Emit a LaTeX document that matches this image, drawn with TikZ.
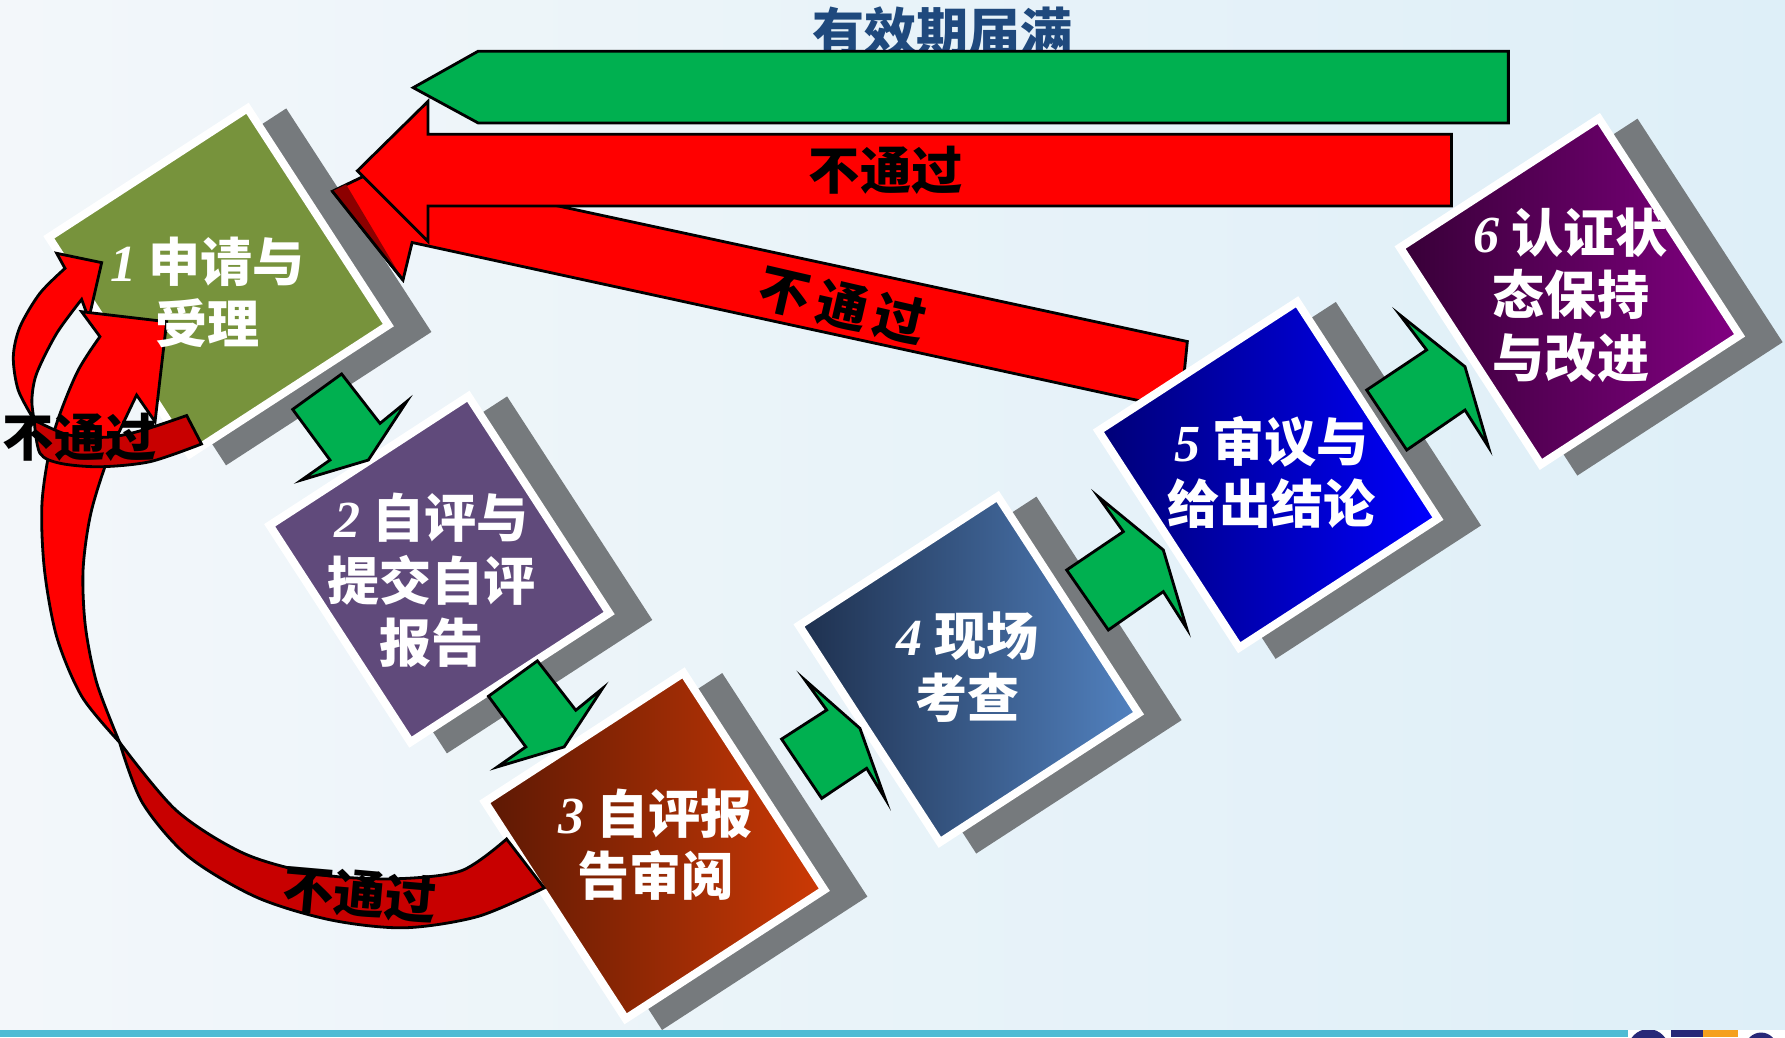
\documentclass[tikz,border=0pt]{standalone}
\usepackage{fontspec}
\newfontfamily\cjk{Noto Sans CJK SC}
\newfontfamily\numfont{Liberation Serif}
\usetikzlibrary{positioning}

\definecolor{bgleft}{RGB}{243,247,250}
\definecolor{bgmid}{RGB}{208,233,246}
\definecolor{bgright}{RGB}{222,239,248}
\definecolor{stripe}{RGB}{78,188,212}
\definecolor{logoblue}{RGB}{40,40,120}
\definecolor{logoorange}{RGB}{245,160,30}
\definecolor{shadowgray}{RGB}{118,122,125}
\definecolor{agreen}{RGB}{0,176,80}
\definecolor{ared}{RGB}{255,0,0}
\definecolor{adarkred}{RGB}{200,0,0}
\definecolor{asliver}{RGB}{140,0,0}
\definecolor{titleblue}{RGB}{31,73,125}
\definecolor{olive}{RGB}{119,147,60}
\definecolor{grape}{RGB}{96,74,123}
\definecolor{rustdark}{RGB}{92,24,4}
\definecolor{rustlight}{RGB}{205,58,5}
\definecolor{steeldark}{RGB}{30,48,78}
\definecolor{steellight}{RGB}{82,130,192}
\definecolor{navydark}{RGB}{0,0,118}
\definecolor{navylight}{RGB}{0,0,255}
\definecolor{plumdark}{RGB}{55,0,55}
\definecolor{plumlight}{RGB}{130,0,130}

\begin{document}
\begin{tikzpicture}[x=0.01cm,y=-0.01cm]
\tikzstyle{every node}=[inner sep=0pt]
\tikzstyle{stepshadow}=[fill=shadowgray, rotate=33, minimum width=2.15cm, minimum height=2.34cm]
\tikzstyle{stepbox}=[draw=white, line width=2pt, rotate=33, minimum width=2.08cm, minimum height=2.27cm]
\tikzstyle{steptext}=[text=white, align=center, font=\cjk\bfseries\fontsize{13}{15.6}\selectfont]
\tikzstyle{blockarrow}=[draw=black, line width=0.7pt, line join=miter]
\tikzstyle{failtext}=[text=black, font=\cjk\bfseries\fontsize{12.8}{15}\selectfont]

% background and bottom strip
\useasboundingbox (0,0) rectangle (1568,911);
\shade[left color=bgleft, middle color=bgmid, right color=bgright] (0,0) rectangle (1568,905);
\fill[stripe] (0,905) rectangle (1430,911);
\begin{scope}
\clip (1430,905) rectangle (1568,911);
\fill[white] (1430,905) rectangle (1568,911);
\fill[logoblue] (1448,922) circle (18);
\fill[logoblue] (1468,905) rectangle (1496,911);
\fill[logoorange] (1496,905) rectangle (1527,911);
\fill[logoblue] (1547,921) circle (14);
\end{scope}

\node[font=\cjk\bfseries\fontsize{13}{15}\selectfont, text=titleblue] (title) at (828,28) {有效期届满};

% steps 1-4
\node[stepshadow] (h1) at (225,252) {};
\node[stepbox, fill=olive] (s1) at (192,247) {};
\node[stepshadow] (h2) at (419,505) {};
\node[stepbox, fill=grape] (s2) at (386,500) {};
\node[stepshadow] (h3) at (608,748) {};
\node[stepbox, left color=rustdark, right color=rustlight] (s3) at (575,743) {};
\node[stepshadow] (h4) at (884,593) {};
\node[stepbox, left color=steeldark, right color=steellight] (s4) at (851,588) {};

% back arrows on top
\draw[blockarrow, fill=ared] (292,168) -- (340,145) -- (370,155) -- (1043,300) -- (1040,330)
  -- (1010,354) -- (362,213) -- (354,246) -- cycle;
\fill[asliver] (292,168) -- (304,162) -- (354,246) -- cycle;
\draw[blockarrow] (292,168) -- (354,246);
\draw[blockarrow, fill=ared] (1275,118) -- (376,118) -- (376,89) -- (314,150) -- (376,212)
  -- (376,181) -- (1275,181) -- cycle;
\draw[blockarrow, fill=agreen] (1325,45) -- (420,45) -- (363,77) -- (420,108) -- (1325,108) -- cycle;

% steps 5-6
\node[stepshadow] (h5) at (1147,422) {};
\node[stepbox, left color=navydark, right color=navylight] (s5) at (1114,417) {};
\node[stepshadow] (h6) at (1412,261) {};
\node[stepbox, left color=plumdark, right color=plumlight] (s6) at (1379,256) {};

% forward arrows
\draw[blockarrow, fill=agreen] (257.1,359.6) -- (300.1,328.5) -- (333.8,371.9) -- (357.2,352.8)
  -- (323.6,404.1) -- (265,421.6) -- (289.9,404.1) -- cycle;
\draw[blockarrow, fill=agreen] (429.1,611.6) -- (472.1,580.5) -- (505.8,623.9) -- (529.2,604.8)
  -- (495.6,656.1) -- (437,673.6) -- (461.9,656.1) -- cycle;
\draw[blockarrow, fill=agreen] (686.6,649.2) -- (726.2,623.7) -- (707.1,597.3) -- (755.4,639.8)
  -- (777.4,701.3) -- (761.3,674.9) -- (721.8,701.3) -- cycle;
\draw[blockarrow, fill=agreen] (937,500.7) -- (986.8,467) -- (964.8,436.3) -- (1021.9,483.1)
  -- (1042.4,551.9) -- (1021.9,519.7) -- (973.6,553.4) -- cycle;
\draw[blockarrow, fill=agreen] (1200.5,342.6) -- (1253.2,307.4) -- (1229.8,276.7) -- (1286.9,322.1)
  -- (1307.4,392.4) -- (1286.9,360.2) -- (1235.7,395.3) -- cycle;

% curved loops back to step 1
\draw[blockarrow, fill=ared] (49.8,222.5) -- (89.3,230.7) -- (78,280) -- (71.7,263)
  -- plot[smooth] coordinates {(71.7,263) (49.8,292.8) (32.2,328) (28,351) (30,369)}
  -- plot[smooth] coordinates {(30,369) (16,342.6) (11.7,313.3) (17.6,287) (35,257.7) (57.1,235.7)}
  -- cycle;
\draw[blockarrow, fill=ared] (71.7,273.8) -- (146.4,282.6) -- (136.2,370.4) -- (120,347)
  -- plot[smooth] coordinates {(120,347) (96.6,398) (80,450) (73,500) (75,550) (85,600) (105,652)}
  -- plot[smooth] coordinates {(105,652) (72,612) (50,560) (39,500) (37,440) (47,381) (67.3,328) (87.8,295.7)}
  -- cycle;
\draw[blockarrow, fill=adarkred] plot[smooth] coordinates {(30,369) (60,382) (95,384) (125,378) (164,365)}
  -- (177,390)
  -- plot[smooth] coordinates {(177,390) (132,405.5) (88,410) (53,407) (35,398) (30,369)} -- cycle;
\draw[blockarrow, fill=adarkred] plot[smooth] coordinates {(105,652) (155,712) (215,750) (280,768) (345,772) (405,765) (445,737)}
  -- (478,780)
  -- plot[smooth] coordinates {(478,780) (420,805) (355,815) (290,808) (225,788) (165,752) (125,705) (105,652)} -- cycle;

% texts
\node[steptext] (t1) at (182,257) {{\numfont\itshape 1} 申请与\\受理};
\node[steptext] (t2) at (379,510) {{\numfont\itshape 2} 自评与\\提交自评\\报告};
\node[steptext] (t3) at (576,742) {{\numfont\itshape 3} 自评报\\告审阅};
\node[steptext] (t4) at (850,586) {{\numfont\itshape 4} 现场\\考查};
\node[steptext] (t5) at (1117,415) {{\numfont\itshape 5} 审议与\\给出结论};
\node[steptext] (t6) at (1380,259) {{\numfont\itshape 6} 认证状\\态保持\\与改进};

\node[failtext] (f1) at (778,150) {不通过};
\node[failtext, rotate=-13] (f2) at (740,268) {不\hspace{0.15em}通\hspace{0.15em}过};
\node[failtext] (f3) at (70,384) {不通过};
\node[failtext, rotate=-5] (f4) at (316,785) {不通过};
\end{tikzpicture}
\end{document}
